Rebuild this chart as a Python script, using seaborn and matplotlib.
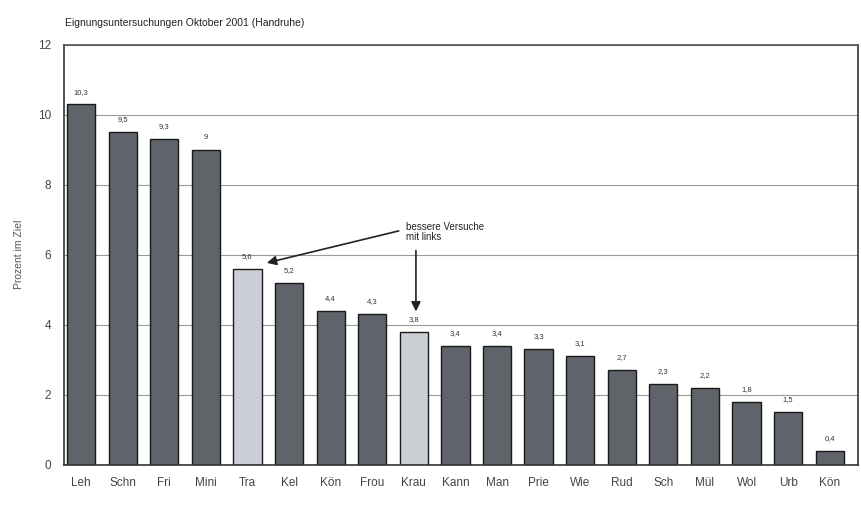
import matplotlib
matplotlib.use("Agg")
import matplotlib.pyplot as plt
import seaborn as sns
import pandas as pd

# Handruhe test results, October 2001
names = ["Leh", "Schn", "Fri", "Mini", "Tra", "Kel", "Kön", "Frou", "Krau", "Kann",
         "Man", "Prie", "Wie", "Rud", "Sch", "Mül", "Wol", "Urb", "Kön"]
values = [10.3, 9.5, 9.3, 9, 5.6, 5.2, 4.4, 4.3, 3.8, 3.4,
          3.4, 3.3, 3.1, 2.7, 2.3, 2.2, 1.8, 1.5, 0.4]
# attempts done with the left hand
left_hand = [False, False, False, False, True, False, False, False, True, False,
             False, False, False, False, False, False, False, False, False]
value_labels = ["10,3", "9,5", "9,3", "9", "5,6", "5,2", "4,4", "4,3", "3,8", "3,4",
                "3,4", "3,3", "3,1", "2,7", "2,3", "2,2", "1,8", "1,5", "0,4"]

df = pd.DataFrame({
    "pos": list(range(len(names))),
    "value": values,
    "group": ["links" if l else "rechts" for l in left_hand],
})

sns.set_theme(style="white")
plt.rcParams["font.family"] = ["Liberation Sans", "DejaVu Sans"]

fig = plt.figure(figsize=(8.61, 5.21), dpi=100)
ax = fig.add_axes([0.074, 0.108, 0.922, 0.806])

sns.barplot(data=df, x="pos", y="value", hue="group",
            palette={"rechts": "#5d646c", "links": "#c9ced6"},
            dodge=False, width=0.68, edgecolor="#1a1a1a", linewidth=1.0,
            legend=False, ax=ax)

for i, (v, t) in enumerate(zip(values, value_labels)):
    ax.text(i, v + 0.25, t, ha="center", va="bottom", fontsize=5.5, color="#333333")

ax.set_ylim(0, 12)
ax.set_xlim(-0.42, len(names) - 0.33)
ax.set_yticks(range(0, 13, 2))
ax.set_yticklabels([str(v) for v in range(0, 13, 2)], fontsize=8.5, color="#333333")
ax.set_xticks(range(len(names)))
ax.set_xticklabels(names, fontsize=8.5, color="#222222")
ax.tick_params(axis="both", length=3, width=0.8, colors="#444444", pad=6)
ax.yaxis.grid(True, color="#9a9a9a", linewidth=0.8)
ax.set_axisbelow(True)
ax.set_xlabel("")
ax.set_ylabel("Prozent im Ziel", fontsize=7.5, color="#555555", labelpad=10)

for side in ["left", "bottom", "right"]:
    ax.spines[side].set_visible(True)
    ax.spines[side].set_color("#333333")
    ax.spines[side].set_linewidth(1.2)
ax.spines["top"].set_visible(True)
ax.spines["top"].set_color("#555555")

fig.text(0.075, 0.955, "Eignungsuntersuchungen Oktober 2001 (Handruhe)",
         fontsize=7.5, color="#222222", ha="left", va="center")

# note pointing at the left-handed attempts
ax.text(7.8, 6.65, "bessere Versuche\nmit links", fontsize=7, color="#222222",
        ha="left", va="center", linespacing=1.1)
ax.annotate("", xy=(4.4, 5.75), xytext=(7.7, 6.7),
            arrowprops=dict(arrowstyle="-|>", color="#222222", lw=1.2,
                            mutation_scale=14))
ax.annotate("", xy=(8.05, 4.3), xytext=(8.05, 6.2),
            arrowprops=dict(arrowstyle="-|>", color="#222222", lw=1.2,
                            mutation_scale=14))

fig.savefig("out.png", dpi=100, facecolor="white")
